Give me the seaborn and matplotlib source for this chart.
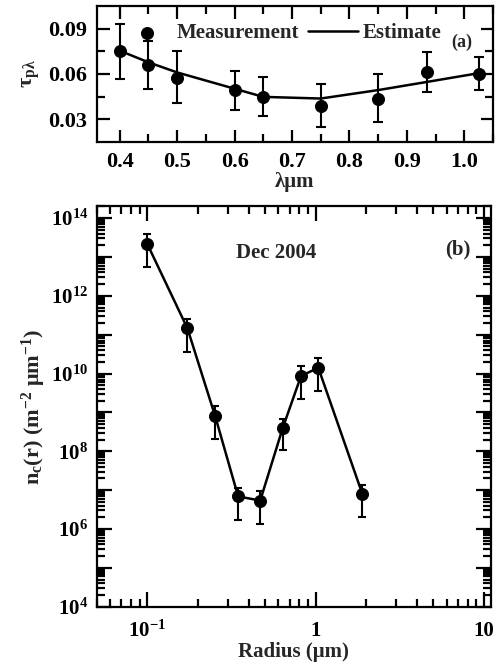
import numpy as np
import pandas as pd
import matplotlib
matplotlib.use("Agg")
import matplotlib.pyplot as plt
from matplotlib.ticker import FixedLocator, FuncFormatter, LogLocator, NullFormatter, MultipleLocator
import seaborn as sns

# panel (a): aerosol optical depth vs wavelength
wavelength = [0.40, 0.45, 0.50, 0.60, 0.65, 0.75, 0.85, 0.935, 1.025]
tau_meas = [0.0754, 0.0660, 0.0576, 0.0491, 0.0448, 0.0385, 0.0437, 0.0613, 0.0598]
tau_err_hi = [0.0934, 0.0821, 0.0750, 0.0620, 0.0580, 0.0531, 0.0598, 0.0744, 0.0710]
tau_err_lo = [0.0569, 0.0502, 0.0408, 0.0358, 0.0318, 0.0247, 0.0279, 0.0482, 0.0493]
tau_est = [0.0754, 0.0677, 0.0610, 0.0502, 0.0448, 0.0437, 0.0493, 0.0547, 0.0605]

# panel (b): columnar size distribution
radius = [0.10, 0.173, 0.253, 0.346, 0.468, 0.637, 0.818, 1.036, 1.89]
nc = [2.14e13, 1.45e11, 7.9e8, 6.9e6, 5.4e6, 4.0e8, 8.7e9, 1.41e10, 8.1e6]
nc_hi = [3.9e13, 2.6e11, 1.45e9, 1.17e7, 9.3e6, 6.6e8, 1.55e10, 2.57e10, 1.38e7]
nc_lo = [5.5e12, 3.5e10, 2.1e8, 1.74e6, 1.35e6, 1.1e8, 2.24e9, 3.55e9, 2.04e6]

sns.set_style("ticks")
plt.rcParams["font.family"] = ["Liberation Serif", "DejaVu Serif"]
plt.rcParams["font.weight"] = "bold"
plt.rcParams["axes.labelweight"] = "bold"
plt.rcParams["mathtext.fontset"] = "custom"
plt.rcParams["mathtext.rm"] = "Liberation Serif:bold"
plt.rcParams["mathtext.it"] = "Liberation Serif:bold"
plt.rcParams["mathtext.bf"] = "Liberation Serif:bold"
plt.rcParams["mathtext.default"] = "bf"

fig = plt.figure(figsize=(4.96, 6.66), dpi=100)
ax1 = fig.add_axes([0.195, 0.787, 0.799, 0.204])
ax2 = fig.add_axes([0.195, 0.089, 0.795, 0.601])

for ax in (ax1, ax2):
    for sp in ax.spines.values():
        sp.set_linewidth(1.6)
        sp.set_color("black")
    ax.tick_params(which="both", direction="in", top=True, right=True,
                   width=1.6, colors="black")

# ---- (a)
dfa = pd.DataFrame({"wl": wavelength, "meas": tau_meas, "est": tau_est})
ax1.errorbar(wavelength, tau_meas,
             yerr=[np.array(tau_meas) - np.array(tau_err_lo), np.array(tau_err_hi) - np.array(tau_meas)],
             fmt="none", ecolor="black", elinewidth=1.5, capsize=3.5, capthick=1.5)
sns.lineplot(data=dfa, x="wl", y="est", ax=ax1, color="black", lw=1.8, sort=False, label="Estimate")
sns.scatterplot(data=dfa, x="wl", y="meas", ax=ax1, color="black", s=75, edgecolor="black",
                marker="o", label="Measurement", zorder=5)
h, l = ax1.get_legend_handles_labels()
ax1.legend([h[1], h[0]], [l[1], l[0]], ncol=2, frameon=False, loc="center left",
           bbox_to_anchor=(0.064, 0.80), fontsize=15, handlelength=2.4, handletextpad=0.2,
           columnspacing=0.45, borderpad=0, borderaxespad=0)
ax1.set_xlim(0.36, 1.05)
ax1.set_ylim(0.015, 0.105)
ax1.xaxis.set_major_locator(MultipleLocator(0.1))
ax1.xaxis.set_minor_locator(MultipleLocator(0.05))
ax1.yaxis.set_major_locator(FixedLocator([0.03, 0.06, 0.09]))
ax1.yaxis.set_minor_locator(FixedLocator([0.045, 0.075]))
ax1.xaxis.set_major_formatter(FuncFormatter(lambda v, p: f"{v:.1f}"))
ax1.yaxis.set_major_formatter(FuncFormatter(lambda v, p: f"{v:.2f}"))
ax1.tick_params(which="major", length=9, labelsize=16, pad=7)
ax1.tick_params(which="minor", length=5.5, width=1.6)
ax1.set_xlabel("λμm", fontsize=15, labelpad=0)
ax1.set_ylabel("τ$_{pλ}$", fontsize=16, labelpad=4)
ax1.text(0.922, 0.735, "(a)", transform=ax1.transAxes, fontsize=13, ha="center", va="center")

# ---- (b)
dfb = pd.DataFrame({"r": radius, "nc": nc})
ax2.errorbar(radius, nc,
             yerr=[np.array(nc) - np.array(nc_lo), np.array(nc_hi) - np.array(nc)],
             fmt="none", ecolor="black", elinewidth=1.5, capsize=3, capthick=1.5)
sns.lineplot(data=dfb, x="r", y="nc", ax=ax2, color="black", lw=1.8, sort=False)
sns.scatterplot(data=dfb, x="r", y="nc", ax=ax2, color="black", s=75, edgecolor="black",
                marker="o", zorder=5)
ax2.set_xscale("log")
ax2.set_yscale("log")
ax2.set_xlim(0.05, 11)
ax2.set_ylim(1e4, 2e14)
ax2.xaxis.set_major_locator(FixedLocator([0.1, 1, 10]))
ax2.xaxis.set_minor_locator(LogLocator(base=10, subs=np.arange(2, 10)))
ax2.xaxis.set_minor_formatter(NullFormatter())
xlab = {0.1: "$10^{-1}$", 1: "1", 10: "10"}
ax2.xaxis.set_major_formatter(FuncFormatter(lambda v, p: xlab.get(round(v, 3), "")))
ax2.yaxis.set_major_locator(FixedLocator([10.0 ** k for k in range(4, 15)]))
ax2.yaxis.set_minor_locator(LogLocator(base=10, subs=np.arange(2, 10), numticks=30))
ax2.yaxis.set_minor_formatter(NullFormatter())
ax2.yaxis.set_major_formatter(FuncFormatter(
    lambda v, p: f"$10^{{{int(round(np.log10(v)))}}}$" if int(round(np.log10(v))) % 2 == 0 else ""))
ax2.tick_params(which="major", length=11, labelsize=15)
ax2.tick_params(axis="x", which="major", pad=10)
ax2.tick_params(axis="y", which="major", pad=6)
ax2.tick_params(which="minor", length=6, width=1.6)
ax2.set_xlabel("Radius (μm)", fontsize=15, labelpad=0)
ax2.set_ylabel("n$_c$(r) (m$^{-2}$ μm$^{-1}$)", fontsize=16, labelpad=2)
ax2.text(0.455, 0.884, "Dec 2004", transform=ax2.transAxes, fontsize=15, ha="center", va="center")
ax2.text(0.916, 0.892, "(b)", transform=ax2.transAxes, fontsize=15, ha="center", va="center")

fig.savefig("out.png", dpi=100)
